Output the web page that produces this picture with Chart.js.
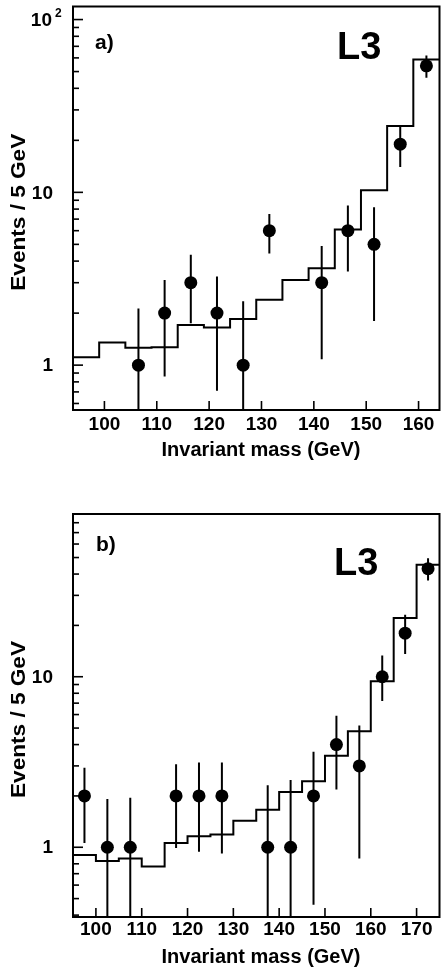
<!DOCTYPE html>
<html>
<head>
<meta charset="utf-8">
<script src="https://cdn.jsdelivr.net/npm/chart.js@4"></script>
<style>
  body { margin: 0; background: #fff; }
  canvas { display: block; }
</style>
</head>
<body>
<canvas id="chartA" width="446" height="486"></canvas>
<canvas id="chartB" width="446" height="486"></canvas>
<script>
// a) histogram bin edges and expected events per bin
var aEdges = [94, 99, 104, 109, 114, 119, 124, 129, 134, 139, 144, 149, 154, 159, 164];
var aExpected = [1.11, 1.35, 1.26, 1.27, 1.71, 1.65, 1.85, 2.39, 3.11, 3.64, 6.1, 10.3, 24.2, 58.8];
// a) data points
var aMass = [106.5, 111.5, 116.5, 121.5, 126.5, 131.5, 141.5, 146.5, 151.5, 156.5, 161.5];
var aEvents = [1, 2, 3, 2, 1, 6, 3, 6, 5, 19, 54];
var aErrHigh = [2.13, 3.11, 4.35, 3.26, 2.34, 7.5, 4.9, 8.4, 8.2, 23.9, 62];
var aErrLow = [0, 0.86, 1.75, 0.71, 0, 4.42, 1.08, 3.48, 1.8, 14, 46];
var aXTicks = [100, 110, 120, 130, 140, 150, 160];
var aYLabels = [1, 10, 100];

// b) histogram
var bEdges = [95, 100, 105, 110, 115, 120, 125, 130, 135, 140, 145, 150, 155, 160, 165, 170, 175];
var bExpected = [0.90, 0.83, 0.86, 0.77, 1.06, 1.16, 1.19, 1.43, 1.66, 2.11, 2.44, 3.44, 4.79, 9.4, 22.1, 45.4];
// b) data points
var bMass = [97.5, 102.5, 107.5, 117.5, 122.5, 127.5, 137.5, 142.5, 147.5, 152.5, 157.5, 162.5, 167.5, 172.5];
var bEvents = [2, 1, 1, 2, 2, 2, 1, 1, 2, 4, 3, 10, 18, 43];
var bErrHigh = [2.93, 1.92, 1.95, 3.07, 3.14, 3.14, 2.31, 2.48, 3.63, 5.9, 5.17, 13.3, 23.1, 49.5];
var bErrLow = [1.06, 0, 0, 0.99, 0.94, 0.92, 0, 0, 0.46, 2.18, 0.86, 7.2, 13.6, 36.7];
var bXTicks = [100, 110, 120, 130, 140, 150, 160, 170];
var bYLabels = [1, 10];

var FONT = '"Liberation Sans", Arial, Helvetica, sans-serif';

// 枠・目盛り・文字・誤差棒を描くプラグイン
var decor = {
    id: 'decor',
    beforeDatasetsDraw: function (chart) {
        var c = chart.ctx, a = chart.chartArea, o = chart.options.plugins.decor;
        var xs = chart.scales.x, ys = chart.scales.y;
        c.save();
        c.beginPath();
        c.rect(a.left, a.top, a.right - a.left, a.bottom - a.top);
        c.clip();
        c.strokeStyle = '#000';
        c.lineWidth = 2;
        for (var i = 0; i < o.mass.length; i++) {
            var x = xs.getPixelForValue(o.mass[i]);
            var yHi = ys.getPixelForValue(o.hi[i]);
            var yLo = o.lo[i] > ys.min ? ys.getPixelForValue(o.lo[i]) : a.bottom + 2;
            c.beginPath();
            c.moveTo(x, yHi);
            c.lineTo(x, yLo);
            c.stroke();
        }
        c.restore();
    },
    afterDraw: function (chart) {
        var c = chart.ctx, a = chart.chartArea, o = chart.options.plugins.decor;
        var xs = chart.scales.x, ys = chart.scales.y;
        c.save();
        c.strokeStyle = '#000';
        c.fillStyle = '#000';
        c.lineWidth = 2;
        c.strokeRect(a.left, a.top, a.right - a.left, a.bottom - a.top);

        // y 目盛り（内向き）
        c.lineWidth = 1.6;
        for (var d = -1; d <= 2; d++) {
            for (var m = 1; m <= 9; m++) {
                var v = m * Math.pow(10, d);
                if (v < ys.min || v > ys.max) continue;
                var y = ys.getPixelForValue(v);
                var len = m == 1 ? 10 : 6;
                c.beginPath();
                c.moveTo(a.left, y);
                c.lineTo(a.left + len, y);
                c.stroke();
            }
        }
        // x 目盛り
        o.xTicks.forEach(function (t) {
            var x = xs.getPixelForValue(t);
            c.beginPath();
            c.moveTo(x, a.bottom);
            c.lineTo(x, a.bottom - 9);
            c.stroke();
        });

        // 目盛りラベル
        c.font = 'bold 19px ' + FONT;
        c.textAlign = 'center';
        c.textBaseline = 'middle';
        o.xTicks.forEach(function (t) {
            c.fillText(String(t), xs.getPixelForValue(t), a.bottom + o.xLabelGap);
        });
        c.textAlign = 'right';
        o.yLabels.forEach(function (t) {
            var y = ys.getPixelForValue(t);
            if (t == 100) {
                c.font = 'bold 19px ' + FONT;
                c.fillText('10', 52, y + 1);
                c.font = 'bold 12px ' + FONT;
                c.textAlign = 'left';
                c.fillText('2', 55, y - 6);
                c.textAlign = 'right';
                c.font = 'bold 19px ' + FONT;
            } else {
                c.fillText(String(t), 53, y + 1);
            }
        });

        // 軸タイトル
        c.font = 'bold 20px ' + FONT;
        c.textAlign = 'center';
        c.fillText('Invariant mass (GeV)', 261, a.bottom + 40);
        c.save();
        c.translate(19, (a.top + a.bottom) / 2 + 4);
        c.rotate(-Math.PI / 2);
        c.scale(1.13, 1);
        c.fillText('Events / 5 GeV', 0, 0);
        c.restore();

        // パネル記号
        c.textAlign = 'left';
        c.textBaseline = 'alphabetic';
        c.font = 'bold 21px ' + FONT;
        c.fillText(o.tag, o.tagX, o.tagY);
        c.font = 'bold 38px ' + FONT;
        c.fillText('L3', o.l3X, o.l3Y);
        c.restore();
    }
};

function makeChart(id, edges, expected, mass, events, hi, lo, xTicks, yLabels, box, extra) {
    var hist = edges.map(function (e, i) {
        return { x: e, y: expected[Math.min(i, expected.length - 1)] };
    });
    var pts = mass.map(function (m, i) {
        return { x: m, y: events[i] };
    });
    var cv = document.getElementById(id);
    return new Chart(cv, {
        type: 'scatter',
        data: {
            datasets: [{
                type: 'line',
                data: hist,
                stepped: 'before',
                borderColor: '#000',
                borderWidth: 2,
                pointRadius: 0,
                fill: false
            },
            {
                type: 'scatter',
                data: pts,
                pointRadius: 6.5,
                backgroundColor: '#000',
                borderWidth: 0
            }]
        },
        options: {
            responsive: false,
            animation: false,
            devicePixelRatio: 1,
            events: [],
            layout: {
                padding: { left: box.left, right: 446 - box.right, top: box.top, bottom: cv.height - box.bottom }
            },
            scales: {
                x: { type: 'linear', display: false, min: edges[0], max: edges[edges.length - 1] },
                y: { type: 'logarithmic', display: false, min: box.ymin, max: box.ymax }
            },
            plugins: {
                legend: { display: false },
                tooltip: { enabled: false },
                decor: Object.assign({ mass: mass, hi: hi, lo: lo, xTicks: xTicks, yLabels: yLabels }, extra)
            }
        },
        plugins: [decor]
    });
}

makeChart('chartA', aEdges, aExpected, aMass, aEvents, aErrHigh, aErrLow, aXTicks, aYLabels,
    { left: 73, right: 445, top: 5, bottom: 410, ymin: 0.55, ymax: 119 },
    { xLabelGap: 15, tag: 'a)', tagX: 95, tagY: 49, l3X: 337, l3Y: 59 });

makeChart('chartB', bEdges, bExpected, bMass, bEvents, bErrHigh, bErrLow, bXTicks, bYLabels,
    { left: 73, right: 445, top: 28, bottom: 431, ymin: 0.39, ymax: 90 },
    { xLabelGap: 13, tag: 'b)', tagX: 96, tagY: 65, l3X: 334, l3Y: 89 });
</script>
</body>
</html>
